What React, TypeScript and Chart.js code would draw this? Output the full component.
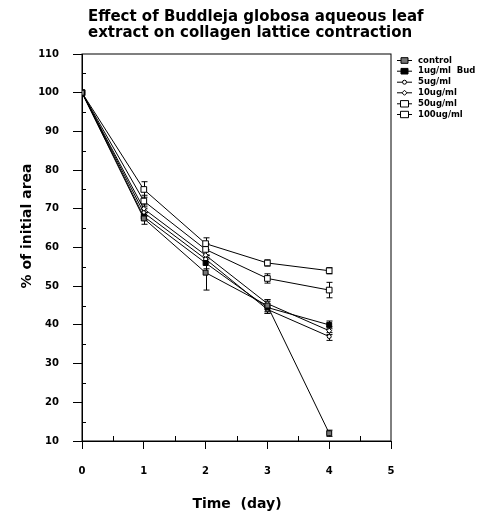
import React, { useEffect, useRef } from "react";
import { Chart, registerables } from "chart.js";

Chart.register(...registerables);

const days = [0, 1, 2, 3, 4];
const seriesNames = ["control", "1ug/ml  Bud", "5ug/ml", "10ug/ml", "50ug/ml", "100ug/ml"];
const control = [100, 67.5, 53.5, 45, 12];
const bud1 = [100, 68, 56, 44.5, 40];
const bud5 = [100, 69, 57, 44, 37];
const bud10 = [100, 70, 58, 45.5, 38.5];
const bud50 = [100, 72, 59.5, 52, 49];
const bud100 = [100, 75, 61, 56, 54];
const errControl = [0, 1.5, 4.5, 1.5, 0.8];
const err1 = [0, 1, 1.5, 1.5, 1];
const err5 = [0, 1, 1, 1, 1];
const err10 = [0, 1, 1, 1, 1];
const err50 = [0, 1.5, 1.5, 1.2, 2];
const err100 = [0, 2, 1.5, 0.8, 0.8];
const yTicks = [10, 20, 30, 40, 50, 60, 70, 80, 90, 100, 110];
const xTicks = [0, 1, 2, 3, 4, 5];
const titleLines = ["Effect of Buddleja globosa aqueous leaf", "extract on collagen lattice contraction"];
const xTitle = "Time  (day)";
const yTitle = "% of initial area";

const allValues = [control, bud1, bud5, bud10, bud50, bud100];
const allErrors = [errControl, err1, err5, err10, err50, err100];

const styles = [
  { pointStyle: "rect", radius: 3.5, bg: "#777" },
  { pointStyle: "rect", radius: 3.5, bg: "#000" },
  { pointStyle: "circle", radius: 2, bg: "#fff" },
  { pointStyle: "rectRot", radius: 2.5, bg: "#fff" },
  { pointStyle: "rect", radius: 4, bg: "#fff" },
  { pointStyle: "rect", radius: 4, bg: "#fff" },
];

const FONT = "'DejaVu Sans', 'Liberation Sans', Arial, sans-serif";

const extrasPlugin = {
  id: "extras",
  beforeDatasetsDraw(chart: any) {
    const { ctx, chartArea, scales } = chart;
    const x = scales.x;
    const y = scales.y;
    ctx.save();
    ctx.strokeStyle = "#000";
    ctx.lineWidth = 1;
    ctx.strokeRect(chartArea.left, chartArea.top, chartArea.right - chartArea.left, chartArea.bottom - chartArea.top);
    ctx.beginPath();
    for (let v = 15; v < 110; v += 10) {
      const py = Math.round(y.getPixelForValue(v)) + 0.5;
      ctx.moveTo(chartArea.left, py);
      ctx.lineTo(chartArea.left + 4, py);
    }
    for (let v = 0.5; v < 5; v += 1) {
      const px = Math.round(x.getPixelForValue(v)) + 0.5;
      ctx.moveTo(px, chartArea.bottom);
      ctx.lineTo(px, chartArea.bottom - 5);
    }
    ctx.stroke();
    ctx.beginPath();
    allValues.forEach((vals, si) => {
      const errs = allErrors[si];
      vals.forEach((v, i) => {
        const e = errs[i];
        if (!e) return;
        const px = Math.round(x.getPixelForValue(days[i])) + 0.5;
        const top = y.getPixelForValue(v + e);
        const bot = y.getPixelForValue(v - e);
        ctx.moveTo(px, top);
        ctx.lineTo(px, bot);
        ctx.moveTo(px - 3, top);
        ctx.lineTo(px + 3, top);
        ctx.moveTo(px - 3, bot);
        ctx.lineTo(px + 3, bot);
      });
    });
    ctx.stroke();
    ctx.restore();
  },
  afterDraw(chart: any) {
    const { ctx, chartArea } = chart;
    ctx.save();
    ctx.fillStyle = "#000";
    ctx.font = `bold 15px ${FONT}`;
    ctx.textBaseline = "middle";
    ctx.textAlign = "left";
    ctx.fillText(titleLines[0], 88, 17);
    ctx.fillText(titleLines[1], 88, 33);
    ctx.textAlign = "center";
    ctx.font = `bold 14px ${FONT}`;
    ctx.fillText(xTitle, 237, 504);
    ctx.save();
    ctx.translate(27, 226);
    ctx.rotate(-Math.PI / 2);
    ctx.fillText(yTitle, 0, 0);
    ctx.restore();
    const lx = chartArea.right + 6;
    const rows = [60, 70.7, 81.7, 92.3, 103.3, 114];
    ctx.font = `bold 8.5px ${FONT}`;
    ctx.textAlign = "left";
    seriesNames.forEach((name, i) => {
      const ry = rows[i];
      ctx.strokeStyle = "#000";
      ctx.lineWidth = 1;
      ctx.beginPath();
      ctx.moveTo(lx, ry + 0.5);
      ctx.lineTo(lx + 15, ry + 0.5);
      ctx.stroke();
      const s = styles[i];
      ctx.fillStyle = s.bg;
      const r = s.radius;
      const cx = lx + 7.5;
      ctx.beginPath();
      if (s.pointStyle === "circle") {
        ctx.arc(cx, ry + 0.5, r, 0, Math.PI * 2);
      } else if (s.pointStyle === "rectRot") {
        ctx.moveTo(cx, ry + 0.5 - r);
        ctx.lineTo(cx + r, ry + 0.5);
        ctx.lineTo(cx, ry + 0.5 + r);
        ctx.lineTo(cx - r, ry + 0.5);
        ctx.closePath();
      } else {
        ctx.rect(cx - r, ry + 0.5 - r * 0.8, 2 * r, 1.6 * r);
      }
      ctx.fill();
      ctx.stroke();
      ctx.fillStyle = "#000";
      ctx.fillText(name, lx + 21, ry + 0.5);
    });
    ctx.restore();
  },
};

export default function App() {
  const ref = useRef<HTMLCanvasElement>(null);
  useEffect(() => {
    document.body.style.margin = "0";
    const canvas = ref.current!;
    const chart = new Chart(canvas, {
      type: "line",
      data: {
        datasets: allValues.map((vals, i) => ({
          label: seriesNames[i],
          data: vals.map((v, j) => ({ x: days[j], y: v })),
          borderColor: "#000",
          borderWidth: 1,
          pointStyle: styles[i].pointStyle as any,
          pointRadius: styles[i].radius,
          pointBackgroundColor: styles[i].bg,
          pointBorderColor: "#000",
          pointBorderWidth: 1,
          fill: false,
          tension: 0,
        })),
      },
      plugins: [extrasPlugin],
      options: {
        responsive: false,
        animation: false,
        layout: { padding: { left: 0, right: 86, top: 54, bottom: 0 } },
        plugins: {
          legend: { display: false },
          tooltip: { enabled: false },
          title: { display: false },
        },
        scales: {
          x: {
            type: "linear",
            min: 0,
            max: 5,
            afterBuildTicks: (s: any) => {
              s.ticks = xTicks.map((v) => ({ value: v }));
            },
            afterFit: (s: any) => {
              s.height = 72;
            },
            grid: { display: true, drawOnChartArea: false, tickLength: 8, color: "#000" },
            border: { display: true, color: "#000" },
            ticks: { color: "#000", padding: 16, font: { family: FONT, size: 10, weight: "bold" } },
          },
          y: {
            type: "linear",
            min: 10,
            max: 110,
            afterBuildTicks: (s: any) => {
              s.ticks = yTicks.map((v) => ({ value: v }));
            },
            afterFit: (s: any) => {
              s.width = 82;
            },
            grid: { display: true, drawOnChartArea: false, tickLength: 9, color: "#000" },
            border: { display: true, color: "#000" },
            ticks: { color: "#000", padding: 14, font: { family: FONT, size: 10, weight: "bold" } },
          },
        },
      },
    });
    return () => chart.destroy();
  }, []);
  return <canvas ref={ref} width={477} height={513} style={{ display: "block" }} />;
}
